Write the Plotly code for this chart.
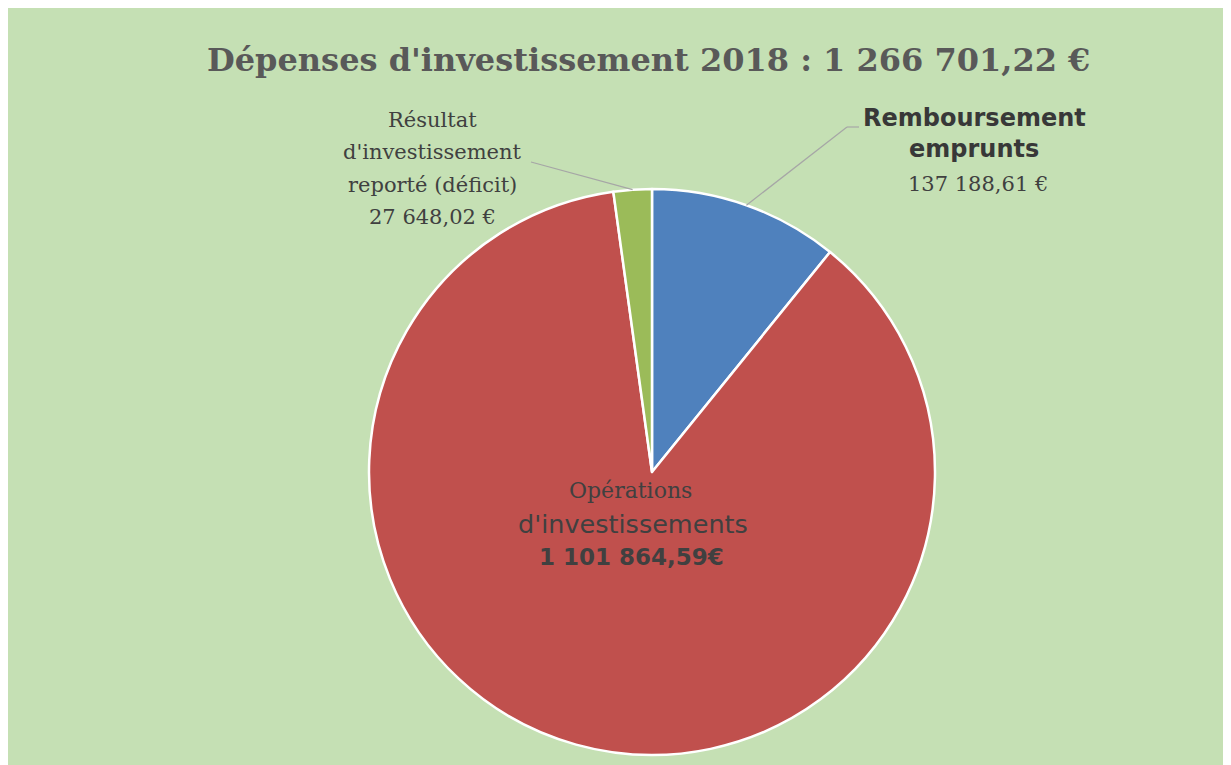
import math
import plotly.graph_objects as go

labels = ["Remboursement emprunts", "Opérations d'investissements",
          "Résultat d'investissement reporté (déficit)"]
values = [137188.61, 1101864.59, 27648.02]
colors = ["#4f81bd", "#c0504d", "#9bbb59"]
year = 2018

# the page body adds an 8px margin, so the figure is drawn at (8, 8)
OFF = 8
W, H = 1231 - OFF, 765 - OFF
CX, CY, R = 652, 472, 283  # pie centre and radius, page px

SERIF = "DejaVu Serif"
SANS = "DejaVu Sans"
INK = "#404040"


def euro(v):
    return f"{v:,.2f}".replace(",", " ").replace(".", ",")


def px(x, y):
    # page pixel -> paper coords
    return (x - OFF) / W, 1 - (y - OFF) / H


def edge(i):
    # rim point at the middle of slice i, clockwise from 12 o'clock
    tot = sum(values)
    mid = (sum(values[:i]) + values[i] / 2) / tot * 2 * math.pi
    return CX + R * math.sin(mid), CY - R * math.cos(mid)


def line(x, base, text, size, family=SERIF, bold=False, color=INK):
    # one text line, placed by its baseline in page px
    xx, yy = px(x, base - 0.36 * size)
    return dict(text=f"<b>{text}</b>" if bold else text, x=xx, y=yy,
                font=dict(family=family, size=size, color=color))


total = sum(values)
x0, y1 = px(CX - R, CY - R)
x1, y0 = px(CX + R, CY + R)

fig = go.Figure(go.Pie(
    labels=labels, values=values, sort=False, direction="clockwise", rotation=0,
    marker=dict(colors=colors, line=dict(color="white", width=2.5)),
    textinfo="none", hoverinfo="label+value+percent",
    domain=dict(x=[x0, x1], y=[y0, y1]),
))

# leader lines
shapes = []
for pts in ([edge(0), (847, 127), (859, 127)], [edge(2), (531, 162)]):
    for (a, b), (c, d) in zip(pts, pts[1:]):
        p, q = px(a, b)
        r, s = px(c, d)
        shapes.append(dict(type="line", xref="paper", yref="paper", x0=p, y0=q, x1=r, y1=s,
                           line=dict(color="#a6a6a6", width=1.2)))

annotations = [
    line(648, 72, f"Dépenses d'investissement {year} : {euro(total)} €", 32,
         bold=True, color="#595959"),
    line(432, 128, "Résultat", 21),
    line(432, 160, "d'investissement", 21),
    line(432, 193, "reporté (déficit)", 21),
    line(432, 225, f"{euro(values[2])} €", 21),
    line(974, 127, "Remboursement", 24, family=SANS, bold=True, color="#383838"),
    line(974, 158, "emprunts", 24, family=SANS, bold=True, color="#383838"),
    line(978, 192, f"{euro(values[0])} €", 21),
    line(630, 498, "Opérations", 22),
    line(633, 533, "d'investissements", 25.5, family=SANS),
    line(631, 565, f"{euro(values[1])}€", 23, family=SANS, bold=True),
]
for a in annotations:
    a.update(xref="paper", yref="paper", showarrow=False, xanchor="center", yanchor="middle")

fig.update_layout(
    width=W, height=H, margin=dict(l=0, r=0, t=0, b=0),
    paper_bgcolor="#c5e0b4", showlegend=False,
    shapes=shapes, annotations=annotations,
)

fig.write_html("out.html")
